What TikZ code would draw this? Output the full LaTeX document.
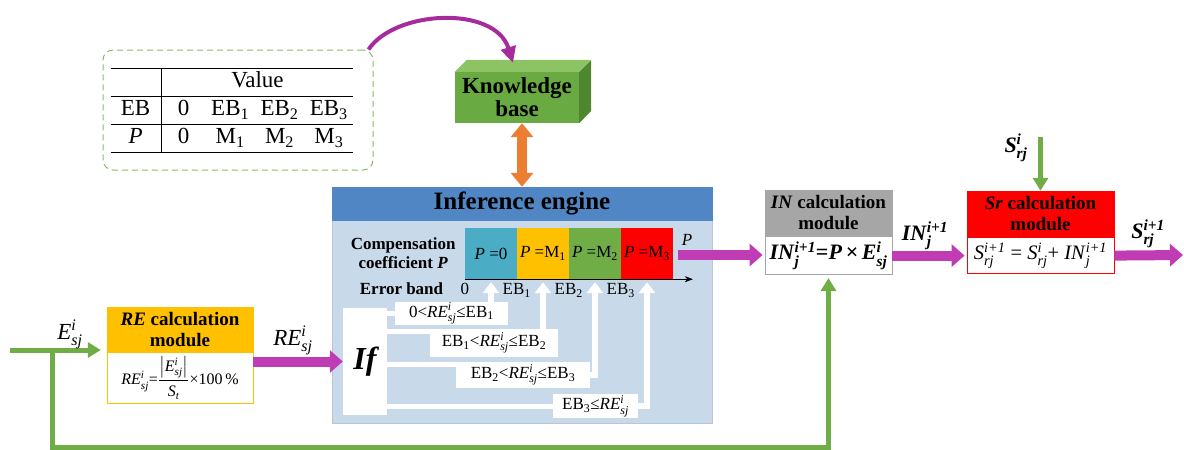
\documentclass[tikz,border=0pt]{standalone}
\usepackage{fontspec}
\usepackage{amsmath}
\usepackage{array}
\setmainfont{Liberation Serif}
\usetikzlibrary{arrows.meta, positioning, calc}

\definecolor{dashgreen}{RGB}{140,185,100}
\definecolor{kbfront}{RGB}{106,170,66}
\definecolor{kbtop}{RGB}{140,196,100}
\definecolor{kbside}{RGB}{78,135,45}
\definecolor{curvepurple}{RGB}{165,45,155}
\definecolor{kborange}{RGB}{237,125,49}
\definecolor{ieblue}{RGB}{79,134,195}
\definecolor{iebody}{RGB}{200,217,234}
\definecolor{segcyan}{RGB}{75,172,198}
\definecolor{segyellow}{RGB}{255,192,0}
\definecolor{seggreen}{RGB}{112,173,71}
\definecolor{segred}{RGB}{255,0,0}
\definecolor{flowpurple}{RGB}{192,60,180}
\definecolor{flowgreen}{RGB}{112,173,71}
\definecolor{ingray}{RGB}{166,166,166}

\newcommand{\fsz}[2]{\fontsize{#1}{#2}\selectfont}
\newcommand{\supsub}[3]{\textit{#1}$^{\textit{#2}}_{\textit{#3}}$}
\newcolumntype{C}[1]{>{\centering\arraybackslash}p{#1}}

\begin{document}
\begin{tikzpicture}[x=1pt, y=-1pt,
    hdr/.style={fill=#1, draw=#1, inner sep=0pt, align=center, font=\bfseries\fsz{19}{21}},
    bodybox/.style={fill=white, draw=#1, line width=0.8pt, inner sep=0pt},
    seg/.style={fill=#1, minimum width=52pt, minimum height=51pt, inner sep=0pt, font=\fsz{17}{19}},
    condbox/.style={fill=white, inner sep=0pt, font=\fsz{17}{19}},
    purplearrow/.style={draw=flowpurple, line width=10pt, -{Triangle[length=13pt,width=22pt]}},
    greenarrow/.style={draw=flowgreen, line width=5pt, -{Triangle[length=13pt,width=15pt]}},
    whitearrow/.style={draw=white, line width=6pt, -{Triangle[length=11pt,width=16pt]}},
    whiteline/.style={draw=white, line width=5pt}]
  \useasboundingbox (0,0) rectangle (1184,450);

  \node[draw=dashgreen, line width=1pt, dash pattern=on 6pt off 4pt, rounded corners=10pt,
        minimum width=270pt, minimum height=120pt] (tblbox) at (238,110) {};
  \node[inner sep=0pt, font=\fsz{23}{27}] (tbl) at (232,110.5) {\setlength\tabcolsep{0pt}\setlength\arrayrulewidth{1pt}%
    \begin{tabular}{C{50pt}|C{44pt}C{49.3pt}C{49.3pt}C{49.3pt}}
      \hline
       & \multicolumn{4}{c}{Value}\\ \hline
      EB & 0 & EB\textsubscript{1} & EB\textsubscript{2} & EB\textsubscript{3}\\ \hline
      \textit{P} & 0 & M\textsubscript{1} & M\textsubscript{2} & M\textsubscript{3}\\ \hline
    \end{tabular}};

  \node[fill=kbfront, minimum width=124pt, minimum height=51pt, inner sep=0pt, align=center,
        font=\bfseries\fsz{23}{23}] (kb) at (517,97.5) {Knowledge\\base};
  \fill[kbtop] (kb.north west) -- ++(12,-12) -- ++(124,0) -- (kb.north east) -- cycle;
  \fill[kbside] (kb.north east) -- ++(12,-12) -- ++(0,51) -- (kb.south east) -- cycle;
  \draw[curvepurple, line width=4pt, -{Triangle[length=16pt,width=15pt]}]
    ($(tblbox.north east)+(-5,0)$) .. controls (395,10) and (495,5) .. ($(kb.north)+(-4,-9)$);

  \node[fill=iebody, draw=iebody!80!gray, minimum width=380pt, minimum height=236pt] (ie) at (522,305) {};
  \node[hdr=ieblue, anchor=north, minimum width=380pt, minimum height=33pt,
        font=\bfseries\fsz{25}{27}] (ieh) at (ie.north) {Inference engine};
  \draw[kborange, line width=10pt, {Triangle[length=14pt,width=22pt]}-{Triangle[length=14pt,width=22pt]}]
    (kb.south -| ieh.north) -- (ieh.north);

  \foreach \col/\txt [count=\i] in {segcyan/0, segyellow/{M\textsubscript{1}}, seggreen/{M\textsubscript{2}}, segred/{M\textsubscript{3}}}
    \node[seg=\col] (seg\i) at (465+52*\i-26,253.5) {\textit{P} =\txt};
  \draw[-{Stealth[length=8pt,width=6pt]}] (seg1.south west) -- ++(228,0);
  \foreach \t [count=\i] in {0, EB\textsubscript{1}, EB\textsubscript{2}, EB\textsubscript{3}}
    \node[font=\fsz{17}{19}, inner sep=0pt, below=4pt of seg\i.south west] (eb\i) {\t};
  \node[font=\bfseries\fsz{17}{19}, inner sep=0pt, left=17pt of eb1] (errband) {Error band};
  \node[font=\bfseries\fsz{17}{19}, align=center, inner sep=0pt, left=9pt of seg1] (comp) {Compensation\\coefficient \textit{P}};
  \node[font=\fsz{17}{19}, inner sep=0pt] (plbl) at (687,240) {\textit{P}};

  \node[fill=white, minimum width=44pt, minimum height=107pt, inner sep=0pt,
        font=\bfseries\itshape\fsz{32}{34}] (ifb) at (365,361.5) {If};
  \node[condbox, minimum width=113pt, minimum height=23pt] (c1) at (451.5,313.5) {0<\supsub{RE}{i}{sj}≤EB\textsubscript{1}};
  \node[condbox, minimum width=128pt, minimum height=28pt] (c2) at (494,343) {EB\textsubscript{1}<\supsub{RE}{i}{sj}≤EB\textsubscript{2}};
  \node[condbox, minimum width=134pt, minimum height=26pt] (c3) at (523,375) {EB\textsubscript{2}<\supsub{RE}{i}{sj}≤EB\textsubscript{3}};
  \node[condbox, minimum width=85pt, minimum height=24pt] (c4) at (595.5,406) {EB\textsubscript{3}≤\supsub{RE}{i}{sj}};
  \draw[whiteline] (ifb.east |- c1.west) -- (c1.west);
  \draw[whiteline] ($(ifb.east |- c2.north)+(0,3)$) -- ($(c2.north west)+(0,3)$);
  \draw[whiteline] ($(ifb.east |- c3.north)+(0,3)$) -- ($(c3.north west)+(0,3)$);
  \draw[whiteline] (ifb.east |- c4.west) -- (c4.west);
  \draw[whitearrow, shorten >=3pt] (seg1.south |- c1.north) -- (seg1.south);
  \draw[whitearrow, shorten >=3pt] (seg2.south |- c2.north) -- (seg2.south);
  \draw[whitearrow, shorten >=3pt] (c3.east) -| (seg3.south);
  \draw[whitearrow, shorten >=3pt] (c4.east) -| (seg4.south);

  \node[hdr=segyellow, minimum width=146pt, minimum height=45pt] (reh) at (180,329.5) {\textit{RE} calculation\\module};
  \node[bodybox=segyellow, minimum width=146pt, minimum height=51pt, below=0pt of reh, font=\fsz{16}{18}] (reb)
    {\supsub{RE}{i}{sj}=$\dfrac{\left|\textit{E}^{\textit{i}}_{\textit{sj}}\right|}{\textit{S}_{\textit{t}}}$×100\,\%};

  \node[hdr=ingray, minimum width=127pt, minimum height=46pt] (inh) at (828.5,213) {\textit{IN} calculation\\module};
  \node[bodybox=ingray, minimum width=127pt, minimum height=38pt, below=0pt of inh, font=\bfseries\fsz{22}{24}] (inb)
    {\supsub{IN}{i+1}{j}=\textit{P}\,×\,\supsub{E}{i}{sj}};

  \node[hdr=segred, minimum width=147pt, minimum height=46pt] (srh) at (1040.5,214) {\textit{Sr} calculation\\module};
  \node[bodybox=segred, minimum width=147pt, minimum height=36pt, below=0pt of srh, font=\fsz{20.5}{22}] (srb)
    {\supsub{S}{i+1}{rj} = \supsub{S}{i}{rj}+ \supsub{IN}{i+1}{j}};

  \coordinate (ein) at (10,350);
  \coordinate (jn) at (52,350);
  \coordinate (fb) at (52,447);
  \coordinate (pout) at (678,255);
  \coordinate (srin) at (1040.5,137);
  \coordinate (srout) at (1184,255);
  \draw[greenarrow, shorten >=6pt] (ein) -- (ein -| reh.west);
  \draw[greenarrow, shorten >=3pt] (jn) -- (fb) -| (inb.south);
  \draw[greenarrow] (srin) -- (srh.north);
  \draw[purplearrow] (ifb.west -| reb.east) -- (ifb.west);
  \draw[purplearrow, shorten >=2pt] (pout) -- (pout -| inb.west);
  \draw[purplearrow, shorten >=2pt] (inb.east) -- (srb.west);
  \draw[purplearrow, shorten >=1pt] (srb.east) -- (srout);

  \node[font=\fsz{23}{25}] (elbl) at (70,334) {\supsub{E}{i}{sj}};
  \node[font=\fsz{23}{25}] (relbl) at (293,340) {\supsub{RE}{i}{sj}};
  \node[font=\bfseries\fsz{22}{24}] (inlbl) at (925,236) {\supsub{IN}{i+1}{j}};
  \node[font=\bfseries\fsz{22}{24}] (srilbl) at (1016,148) {\supsub{S}{i}{rj}};
  \node[font=\bfseries\fsz{22}{24}] (srolbl) at (1148,234) {\supsub{S}{i+1}{rj}};
\end{tikzpicture}
\end{document}
